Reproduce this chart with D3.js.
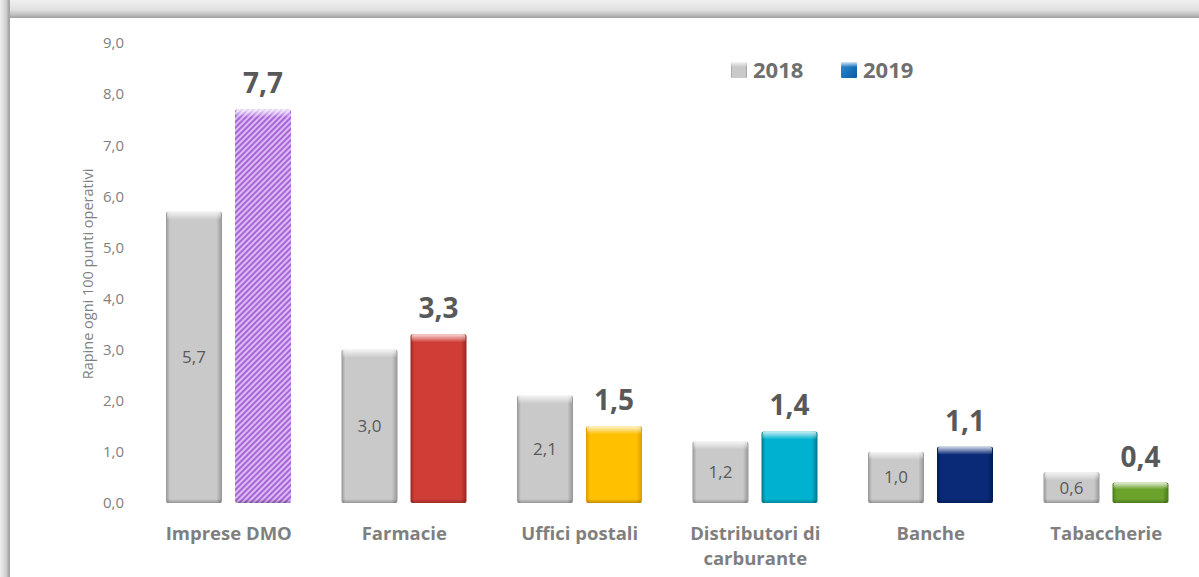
<!DOCTYPE html>
<html><head><meta charset="utf-8">
<script src="https://cdn.jsdelivr.net/npm/d3@7"></script>
<style>html,body{margin:0;padding:0;background:#fff;}svg{display:block;}</style>
</head><body>
<script>
const categories = ["Imprese DMO", "Farmacie", "Uffici postali", "Distributori di carburante", "Banche", "Tabaccherie"];
const categoryLines = [["Imprese DMO"], ["Farmacie"], ["Uffici postali"], ["Distributori di", "carburante"], ["Banche"], ["Tabaccherie"]];
const years = ["2018", "2019"];
const values2018 = [5.7, 3.0, 2.1, 1.2, 1.0, 0.6];
const values2019 = [7.7, 3.3, 1.5, 1.4, 1.1, 0.4];
const yTicks = [0, 1, 2, 3, 4, 5, 6, 7, 8, 9];
const colors2019 = ["#b57ae0", "#d03d37", "#ffc000", "#00b2cf", "#0a2a78", "#6aa22c"];
const dark2019 = ["#8e4fc0", "#9a2622", "#d99e00", "#007888", "#001a50", "#4b7a1a"];
const gray = "#c9c9c9", grayDark = "#969696";
const yTitle = "Rapine ogni 100 punti operativi";

const W = 1199, H = 577;
const FONT = "'Open Sans', sans-serif";
const svg = d3.select("body").append("svg").attr("width", W).attr("height", H);
const defs = svg.append("defs");

// frame
const gTop = defs.append("linearGradient").attr("id", "ftop").attr("x1", 0).attr("y1", 0).attr("x2", 0).attr("y2", 1);
gTop.append("stop").attr("offset", "0%").attr("stop-color", "#f0f0f0");
gTop.append("stop").attr("offset", "55%").attr("stop-color", "#e0e0e0");
gTop.append("stop").attr("offset", "85%").attr("stop-color", "#bababa");
gTop.append("stop").attr("offset", "100%").attr("stop-color", "#9e9e9e");
const gLeft = defs.append("linearGradient").attr("id", "fleft").attr("x1", 0).attr("y1", 0).attr("x2", 1).attr("y2", 0);
gLeft.append("stop").attr("offset", "0%").attr("stop-color", "#eeeeee");
gLeft.append("stop").attr("offset", "60%").attr("stop-color", "#d0d0d0");
gLeft.append("stop").attr("offset", "85%").attr("stop-color", "#aaaaaa");
gLeft.append("stop").attr("offset", "100%").attr("stop-color", "#a0a0a0");
svg.append("rect").attr("x", 0).attr("y", 0).attr("width", W).attr("height", 18).attr("fill", "url(#ftop)");
svg.append("rect").attr("x", 0).attr("y", 0).attr("width", 10).attr("height", H).attr("fill", "url(#fleft)");

// scales
const x0 = d3.scaleBand().domain(categories).range([141, 1194]);
const x1 = d3.scaleBand().domain(years).range([25, 150]).paddingInner(13 / 69);
const y = d3.scaleLinear().domain([0, 9]).range([503, 43]);

// gradients for bars
function makeGrad(id, base, dark) {
  const g = defs.append("linearGradient").attr("id", id).attr("x1", 0).attr("y1", 0).attr("x2", 1).attr("y2", 0);
  g.append("stop").attr("offset", "0%").attr("stop-color", dark);
  g.append("stop").attr("offset", "7%").attr("stop-color", base);
  g.append("stop").attr("offset", "90%").attr("stop-color", base);
  g.append("stop").attr("offset", "100%").attr("stop-color", dark);
}
makeGrad("g2018", gray, grayDark);
colors2019.forEach((c, i) => makeGrad("g2019_" + i, c, dark2019[i]));
const topG = defs.append("linearGradient").attr("id", "topHi").attr("x1", 0).attr("y1", 0).attr("x2", 0).attr("y2", 1);
topG.append("stop").attr("offset", "0%").attr("stop-color", "#fff").attr("stop-opacity", 0.8);
topG.append("stop").attr("offset", "100%").attr("stop-color", "#fff").attr("stop-opacity", 0);
const botG = defs.append("linearGradient").attr("id", "botSh").attr("x1", 0).attr("y1", 0).attr("x2", 0).attr("y2", 1);
botG.append("stop").attr("offset", "0%").attr("stop-color", "#000").attr("stop-opacity", 0);
botG.append("stop").attr("offset", "100%").attr("stop-color", "#000").attr("stop-opacity", 0.25);
const legBlue = defs.append("linearGradient").attr("id", "legBlue").attr("x1", 0).attr("y1", 0).attr("x2", 1).attr("y2", 1);
legBlue.append("stop").attr("offset", "0%").attr("stop-color", "#2a8fd8");
legBlue.append("stop").attr("offset", "100%").attr("stop-color", "#0a5aa0");

// hatch pattern for first 2019 bar
const pat = defs.append("pattern").attr("id", "hatch").attr("patternUnits", "userSpaceOnUse")
  .attr("width", 4).attr("height", 4).attr("patternTransform", "rotate(45)");
pat.append("rect").attr("width", 4).attr("height", 4).attr("fill", "#dcbaf3");
pat.append("rect").attr("width", 2).attr("height", 4).attr("fill", "#a865d8");

// axis tick labels
const fmt = v => d3.format(".1f")(v).replace(".", ",");
const yAxis = d3.axisLeft(y).tickValues(yTicks).tickFormat(fmt).tickSize(0).tickPadding(0);
const ya = svg.append("g").attr("transform", "translate(124,0)").call(yAxis);
ya.select(".domain").remove();
ya.selectAll("text").attr("font-family", FONT).attr("font-size", 15).attr("fill", "#7f7f7f");

svg.append("text").attr("transform", "translate(93,274) rotate(-90)").attr("text-anchor", "middle")
  .attr("font-family", FONT).attr("font-size", 14.5).attr("fill", "#7f7f7f").text(yTitle);

// bars
const groups = svg.append("g").selectAll("g").data(categories).join("g")
  .attr("transform", d => `translate(${x0(d)},0)`);

function drawBar(g, xPos, v, fill) {
  const top = y(v), h = y(0) - y(v), w = x1.bandwidth();
  g.append("rect").attr("x", xPos).attr("y", top).attr("width", w).attr("height", h).attr("rx", 2).attr("fill", fill);
  const th = Math.min(8, h / 3);
  g.append("rect").attr("x", xPos + 1).attr("y", top).attr("width", w - 2).attr("height", th).attr("rx", 2).attr("fill", "url(#topHi)");
  const bh = Math.min(4, h / 4);
  g.append("rect").attr("x", xPos + 1).attr("y", y(0) - bh).attr("width", w - 2).attr("height", bh).attr("fill", "url(#botSh)");
}

groups.each(function (cat, i) {
  const g = d3.select(this);
  drawBar(g, x1("2018"), values2018[i], "url(#g2018)");
  drawBar(g, x1("2019"), values2019[i], i === 0 ? "url(#hatch)" : "url(#g2019_" + i + ")");
  g.append("text").attr("x", x1("2018") + x1.bandwidth() / 2).attr("y", (y(values2018[i]) + y(0)) / 2)
    .attr("dy", "0.35em").attr("text-anchor", "middle")
    .attr("font-family", FONT).attr("font-size", 17).attr("fill", "#595959")
    .text(fmt(values2018[i]));
  g.append("text").attr("x", x1("2019") + x1.bandwidth() / 2).attr("y", y(values2019[i]) - 16)
    .attr("text-anchor", "middle")
    .attr("font-family", FONT).attr("font-weight", "bold").attr("font-size", 28).attr("fill", "#595959")
    .text(fmt(values2019[i]));
  const t = g.append("text").attr("x", x0.bandwidth() / 2).attr("y", 540).attr("text-anchor", "middle")
    .attr("font-family", FONT).attr("font-weight", "bold").attr("font-size", 18.5).attr("fill", "#7f7f7f");
  categoryLines[i].forEach((ln, k) => t.append("tspan").attr("x", x0.bandwidth() / 2).attr("dy", k === 0 ? 0 : 25).text(ln));
});

// legend
const legFills = ["url(#g2018)", "url(#legBlue)"];
const legX = [731, 841];
years.forEach((yr, k) => {
  svg.append("rect").attr("x", legX[k]).attr("y", 62).attr("width", 16).attr("height", 16).attr("rx", 1).attr("fill", legFills[k]);
  svg.append("rect").attr("x", legX[k]).attr("y", 62).attr("width", 16).attr("height", 5).attr("fill", "url(#topHi)");
  svg.append("text").attr("x", legX[k] + 22).attr("y", 78)
    .attr("font-family", FONT).attr("font-weight", "bold").attr("font-size", 22).attr("fill", "#6f6f6f").text(yr);
});
</script>
</body></html>
